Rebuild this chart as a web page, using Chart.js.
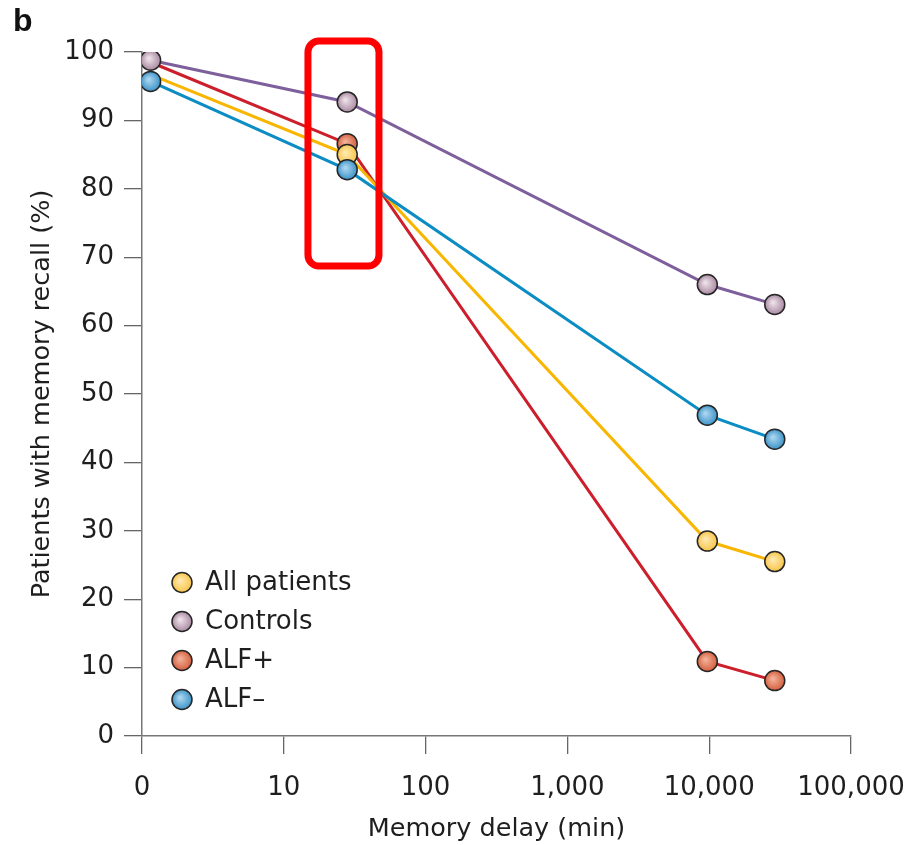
<!DOCTYPE html>
<html>
<head>
<meta charset="utf-8">
<script src="https://cdn.jsdelivr.net/npm/chart.js@4.4.1/dist/chart.umd.min.js"></script>
<style>
  body { margin: 0; background: #fff; }
  #wrap { position: relative; width: 914px; height: 845px; }
  #panel { position: absolute; left: 13px; top: 2px; font: bold 32px "Liberation Sans", Arial, sans-serif; color: #111; }
</style>
</head>
<body>
<div id="wrap">
  <canvas id="recallChart" width="914" height="845"></canvas>
  <div id="panel">b</div>
</div>
<script>
// memory delay in minutes
const delays = [1.15, 28, 9700, 29000];

const allPatients = [96.7, 85.0, 28.5, 25.5];
const controls = [98.8, 92.7, 66.0, 63.1];
const alfPlus = [98.5, 86.6, 10.9, 8.1];
const alfMinus = [95.7, 82.8, 46.9, 43.4];

const xTickValues = [1, 10, 100, 1000, 10000, 100000];
const xTickLabels = ['0', '10', '100', '1,000', '10,000', '100,000'];

const legendOrder = ['All patients', 'Controls', 'ALF+', 'ALF\u2013'];

// highlighted region around the 30 min delay
const boxX = [14.8, 46.9];
const boxY = [68.7, 101.6];

const FONT = '"DejaVu Sans", sans-serif';

function pairs(values) {
  return delays.map((d, i) => ({ x: d, y: values[i] }));
}

function ballFill(centre, edge) {
  return function (ctx) {
    if (ctx.type !== 'data' || !ctx.parsed) return edge;
    const chart = ctx.chart;
    const x = chart.scales.x.getPixelForValue(ctx.parsed.x);
    const y = chart.scales.y.getPixelForValue(ctx.parsed.y);
    if (!isFinite(x) || !isFinite(y)) return edge;
    const g = chart.ctx.createRadialGradient(x - 2, y - 2, 1, x, y, 10);
    g.addColorStop(0, centre);
    g.addColorStop(1, edge);
    return g;
  };
}

// hideFirst: the first marker sits behind the Controls / ALF– markers in the original
const styles = {
  'All patients': { line: '#f8b600', centre: '#ffe8ad', edge: '#f7c54a', hideFirst: true },
  'Controls': { line: '#7d5f9c', centre: '#ecdfe8', edge: '#a98aa1' },
  'ALF+': { line: '#cc1f2b', centre: '#f2ae96', edge: '#d4603f', hideFirst: true },
  'ALF\u2013': { line: '#0b8cc3', centre: '#a9d4ef', edge: '#3e94c8' }
};

function makeSet(label, values, order) {
  const s = styles[label];
  return {
    label: label,
    data: pairs(values),
    order: order,
    borderColor: s.line,
    borderWidth: 3,
    tension: 0,
    fill: false,
    pointRadius: ctx => (s.hideFirst && ctx.dataIndex === 0) ? 0 : 10,
    pointHoverRadius: 10,
    pointBorderWidth: 1.5,
    pointBorderColor: '#262626',
    pointBackgroundColor: ballFill(s.centre, s.edge)
  };
}

const legendPlugin = {
  id: 'ballLegend',
  afterDraw(chart) {
    const c = chart.ctx;
    const area = chart.chartArea;
    const x0 = area.left + 40;
    let y = area.bottom - 153.5;
    c.save();
    c.font = '26px ' + FONT;
    c.textBaseline = 'middle';
    legendOrder.forEach(label => {
      const s = styles[label];
      const g = c.createRadialGradient(x0 - 2, y - 2, 1, x0, y, 10);
      g.addColorStop(0, s.centre);
      g.addColorStop(1, s.edge);
      c.beginPath();
      c.arc(x0, y, 10, 0, Math.PI * 2);
      c.fillStyle = g;
      c.fill();
      c.lineWidth = 1.5;
      c.strokeStyle = '#262626';
      c.stroke();
      c.fillStyle = '#1e1e1e';
      c.fillText(label, x0 + 23, y + 1);
      y += 39;
    });
    c.restore();
  }
};

const boxPlugin = {
  id: 'highlightBox',
  afterDatasetsDraw(chart) {
    const c = chart.ctx;
    const xs = chart.scales.x, ys = chart.scales.y;
    const left = xs.getPixelForValue(boxX[0]);
    const right = xs.getPixelForValue(boxX[1]);
    const top = ys.getPixelForValue(boxY[1]);
    const bottom = ys.getPixelForValue(boxY[0]);
    c.save();
    c.beginPath();
    c.roundRect(left, top, right - left, bottom - top, 11);
    c.lineWidth = 7;
    c.strokeStyle = '#ff0000';
    c.stroke();
    c.restore();
  }
};

new Chart(document.getElementById('recallChart'), {
  type: 'line',
  data: {
    datasets: [
      makeSet('ALF\u2013', alfMinus, 0),
      makeSet('Controls', controls, 1),
      makeSet('All patients', allPatients, 2),
      makeSet('ALF+', alfPlus, 3)
    ]
  },
  options: {
    responsive: false,
    animation: false,
    layout: { padding: { left: 0, top: 52, right: 63, bottom: 0 } },
    plugins: {
      legend: { display: false },
      tooltip: { enabled: false }
    },
    scales: {
      x: {
        type: 'logarithmic',
        min: 1,
        max: 100000,
        afterBuildTicks: scale => {
          scale.ticks = xTickValues.map(v => ({ value: v }));
        },
        afterFit: scale => {
          scale.height = 109;
          scale.paddingLeft = 0;
          scale.paddingRight = 0;
        },
        ticks: {
          autoSkip: false,
          maxRotation: 0,
          padding: 19,
          color: '#1e1e1e',
          font: { family: FONT, size: 26 },
          callback: value => xTickLabels[xTickValues.indexOf(value)]
        },
        grid: { drawOnChartArea: false, drawTicks: true, tickLength: 18, color: '#666', lineWidth: 1.3 },
        border: { display: true, color: '#777', width: 1.5 },
        title: {
          display: true,
          text: 'Memory delay (min)',
          color: '#1e1e1e',
          font: { family: FONT, size: 25.5 },
          padding: { top: 0, bottom: 0 }
        }
      },
      y: {
        min: 0,
        max: 100,
        afterFit: scale => {
          scale.width = 142;
          scale.paddingTop = 0;
          scale.paddingBottom = 0;
        },
        ticks: {
          stepSize: 10,
          padding: 10,
          color: '#1e1e1e',
          font: { family: FONT, size: 26 }
        },
        grid: { drawOnChartArea: false, drawTicks: true, tickLength: 18, color: '#666', lineWidth: 1.3 },
        border: { display: true, color: '#777', width: 1.5 },
        title: {
          display: true,
          text: 'Patients with memory recall (%)',
          color: '#1e1e1e',
          font: { family: FONT, size: 25.5 },
          padding: { top: 27, bottom: 0 }
        }
      }
    }
  },
  plugins: [legendPlugin, boxPlugin]
});
</script>
</body>
</html>
